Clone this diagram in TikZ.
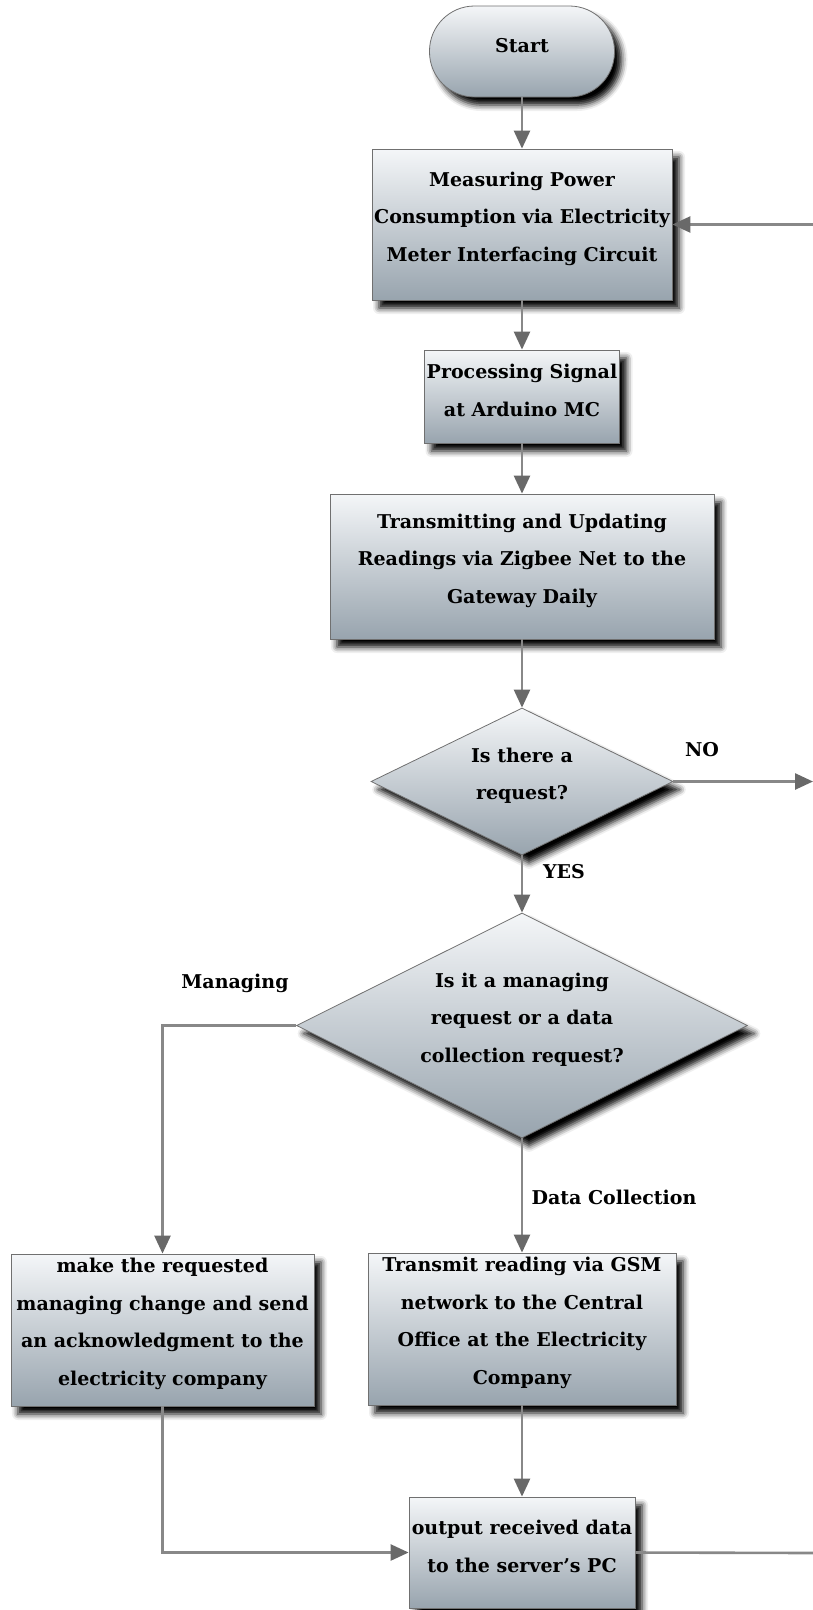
\documentclass[tikz,border=0pt]{standalone}
\usepackage{fontspec}
\setmainfont{DejaVu Serif}
\usetikzlibrary{shapes.geometric, arrows.meta, shadows.blur}

\definecolor{fillTop}{RGB}{244,246,248}
\definecolor{fillBot}{RGB}{152,164,174}
\definecolor{edgeGray}{RGB}{112,112,112}
\definecolor{wireGray}{RGB}{136,136,136}
\definecolor{tipGray}{RGB}{105,105,105}

\begin{document}
\begin{tikzpicture}[x=1pt, y=-1pt,
  txt/.style={font=\bfseries\fontsize{19}{37.5}\selectfont, align=center},
  shapebase/.style={draw=edgeGray, line width=0.8pt,
    top color=fillTop, bottom color=fillBot, inner sep=0pt,
    blur shadow={shadow xshift=7pt, shadow yshift=-8pt,
      shadow blur radius=6pt, shadow opacity=100}},
  procbox/.style={shapebase, rectangle},
  termbox/.style={shapebase, rectangle, rounded corners=45pt},
  decision/.style={shapebase, diamond, aspect=2},
  inner/.style={label={[txt, inner sep=0pt, yshift=6pt]center:{#1}}},
  flow/.style={draw=wireGray, line width=2.6pt,
    -{Triangle[length=18pt, width=16pt, color=tipGray]}},
  plain/.style={draw=wireGray, line width=2.6pt},
  lbl/.style={txt, inner sep=0pt}
]
\useasboundingbox (0,0) rectangle (813,1610);

% main column
\node[termbox, minimum width=185pt, minimum height=91pt,
  inner={Start}] (start) at (522,51.5) {};
\node[procbox, minimum width=300pt, minimum height=151pt,
  inner={Measuring Power\\Consumption via Electricity\\Meter Interfacing Circuit}]
  (b1) at (522,224.5) {};
\node[procbox, minimum width=195pt, minimum height=93pt,
  inner={Processing Signal\\at Arduino MC}] (b2) at (522,396.5) {};
\node[procbox, minimum width=384pt, minimum height=145pt,
  inner={Transmitting and Updating\\Readings via Zigbee Net to the\\Gateway Daily}]
  (b3) at (522,566.5) {};
\node[decision, minimum width=302pt, minimum height=147pt,
  inner={Is there a\\request?}] (d1) at (522,781.5) {};
\node[decision, minimum width=451pt, minimum height=225pt,
  inner={Is it a managing\\request or a data\\collection request?}]
  (d2) at (522,1025.5) {};

% branches
\node[procbox, minimum width=303pt, minimum height=152pt,
  inner={make the requested\\managing change and send\\an acknowledgment to the\\electricity company}]
  (bl) at (162.5,1330) {};
\node[procbox, minimum width=308pt, minimum height=152pt,
  inner={Transmit reading via GSM\\network to the Central\\Office at the Electricity\\Company}]
  (bm) at (522,1329) {};
\node[procbox, minimum width=226pt, minimum height=111pt,
  inner={output received data\\to the server's PC}] (bo) at (522,1552.5) {};

% loose ends at the right margin
\coordinate (noEnd) at (813,781.5);
\coordinate (loopIn) at (813,224.5);
\coordinate (outEnd) at (813,1553);

% connectors
\draw[flow] (start) -- (b1);
\draw[flow] (b1) -- (b2);
\draw[flow] (b2) -- (b3);
\draw[flow] (b3) -- (d1);
\draw[flow] (d1) -- (d2);
\draw[flow] (d1.east) -- (noEnd);
\draw[flow] (loopIn) -- (b1.east);
\draw[flow] (d2.west) -| (bl.north);
\draw[flow] (d2) -- (bm);
\draw[flow] (bm) -- (bo);
\draw[flow] (bl.south) |- (bo.west);
\draw[plain] (bo.east) -- (outEnd);

% branch labels
\node[lbl] (noLbl) at (702,750) {NO};
\node[lbl] (yesLbl) at (564,872) {YES};
\node[lbl] (mgLbl) at (235,983) {Managing};
\node[lbl] (dcLbl) at (614,1197) {Data Collection};
\end{tikzpicture}
\end{document}
